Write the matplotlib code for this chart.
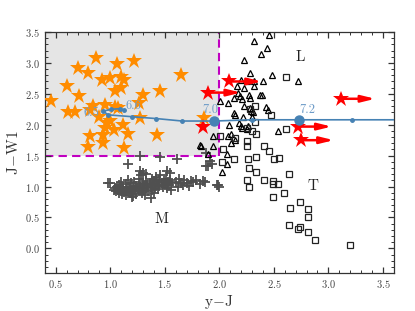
import matplotlib
matplotlib.use("Agg")
import matplotlib.pyplot as plt
from matplotlib.ticker import MultipleLocator

plt.rcParams['font.family'] = 'serif'
plt.rcParams['font.serif'] = ['cmr10', 'DejaVu Serif']
plt.rcParams['mathtext.fontset'] = 'cm'
plt.rcParams['axes.formatter.use_mathtext'] = True

# ---- data ----
# young objects (orange stars)
young_x = [0.46, 0.60, 0.70, 0.80, 0.865, 0.71, 0.61, 0.675, 0.92, 0.996, 1.06, 1.10, 1.13, 1.22,
           1.04, 1.10, 1.30, 1.46, 1.65, 1.26, 0.84, 0.95, 1.07, 0.81, 1.27, 0.97, 1.12, 0.95,
           1.03, 0.935, 0.81, 1.16, 1.43, 0.80, 0.935, 1.13, 1.86, 1.04, 0.90, 1.00]
young_y = [2.38, 2.63, 2.91, 2.83, 3.08, 2.47, 2.20, 2.20, 2.73, 2.75, 2.99, 2.78, 2.73, 3.03,
           2.55, 2.59, 2.48, 2.54, 2.81, 2.35, 2.31, 2.32, 2.27, 2.24, 2.11, 2.03, 2.00, 1.95,
           1.92, 1.84, 1.81, 1.85, 1.84, 1.64, 1.71, 1.62, 2.11, 2.28, 2.12, 2.06]

# M dwarfs (plus)
m_x = [1.00, 1.03, 1.04, 1.05, 1.06, 1.07, 1.08, 1.08, 1.09, 1.10, 1.10, 1.11, 1.12, 1.12, 1.13,
       1.14, 1.14, 1.15, 1.16, 1.16, 1.17, 1.18, 1.18, 1.19, 1.20, 1.21, 1.21, 1.22, 1.23, 1.24,
       1.24, 1.25, 1.26, 1.26, 1.27, 1.28, 1.29, 1.30, 1.30, 1.31, 1.32, 1.33, 1.33, 1.34, 1.35,
       1.36, 1.37, 1.38, 1.38, 1.39, 1.40, 1.41, 1.42, 1.42, 1.43, 1.44, 1.45, 1.45, 1.46, 1.47,
       1.48, 1.49, 1.50, 1.51, 1.52, 1.53, 1.54, 1.55, 1.56, 1.57,
       1.60, 1.62, 1.63, 1.65, 1.67, 1.68, 1.70, 1.72, 1.74, 1.76, 1.79, 1.82, 1.85, 1.87,
       1.16, 1.27, 1.46, 1.61, 1.27, 1.30, 1.52, 1.55, 1.37, 1.88, 1.91, 1.90, 1.93, 2.00, 1.98,
       0.98, 1.28, 1.33, 1.40, 1.20, 1.99, 1.88]
m_y = [1.05, 0.95, 0.98, 0.92, 1.00, 0.95, 0.90, 1.03, 0.97, 0.93, 1.08, 0.88, 1.00, 0.95, 0.91,
       1.04, 0.86, 0.97, 0.93, 1.10, 1.00, 0.89, 0.96, 1.05, 0.92, 0.99, 0.85, 1.07, 0.94, 1.01,
       0.88, 0.97, 1.12, 0.92, 1.04, 0.98, 0.90, 1.06, 0.95, 1.01, 0.87, 1.09, 0.97, 1.03, 0.93,
       1.06, 1.00, 1.12, 0.95, 1.04, 1.09, 0.98, 1.15, 1.03, 1.07, 0.96, 1.11, 1.01, 1.18, 1.05,
       0.99, 1.09, 1.03, 1.13, 0.97, 1.07, 1.02, 1.10, 0.95, 1.05,
       1.08, 1.00, 1.12, 1.05, 1.03, 1.10, 1.06, 1.01, 1.09, 1.07, 1.11, 1.04, 1.09, 1.08,
       1.37, 1.50, 1.48, 1.45, 1.25, 1.22, 1.25, 1.22, 0.81, 1.54, 1.41, 1.33, 1.37, 1.00, 1.03,
       1.06, 1.18, 1.20, 0.90, 0.83, 1.02, 1.33]

# L dwarfs (triangles)
l_x = [2.46, 2.32, 2.44, 2.38, 2.23, 2.28, 2.48, 2.72, 2.20, 2.25, 2.32, 2.40, 2.16, 2.23, 2.32,
       2.37, 2.39, 2.27, 2.28, 2.13, 2.19, 2.21, 2.17, 2.08, 2.23, 2.28, 2.29, 2.31, 2.43, 2.45,
       2.13, 2.14, 2.22, 2.09, 2.18, 2.20, 2.21, 2.25, 1.94, 2.08, 2.11, 2.14, 2.11, 2.54, 1.94,
       2.07, 1.90, 2.07, 2.02, 1.83, 2.01, 2.30, 2.26, 1.82]
l_y = [3.46, 3.36, 3.24, 3.14, 3.05, 2.84, 2.81, 2.71, 2.73, 2.71, 2.70, 2.71, 2.62, 2.59, 2.63,
       2.48, 2.48, 2.48, 2.44, 2.43, 2.46, 2.42, 2.51, 2.35, 2.30, 2.27, 2.23, 2.21, 2.29, 2.24,
       2.19, 2.15, 2.13, 2.00, 2.03, 1.98, 1.95, 1.93, 1.81, 1.82, 1.85, 1.76, 1.70, 1.90, 1.65,
       1.52, 1.53, 1.37, 1.24, 1.65, 2.38, 2.12, 1.98, 1.67]

# T dwarfs (squares)
t_x = [2.61, 2.33, 2.28, 2.47, 2.33, 2.61, 2.25, 2.30, 2.34, 2.01, 2.14, 2.25, 2.25, 2.41, 2.46,
       2.26, 2.34, 2.55, 2.13, 2.50, 2.27, 2.34, 2.64, 2.25, 2.27, 2.41, 2.49, 2.54, 2.49, 2.59,
       2.49, 2.74, 2.65, 2.81, 2.81, 2.64, 2.72, 2.74, 2.81, 2.88, 3.20, 2.03, 2.02]
t_y = [2.77, 2.31, 2.25, 2.16, 2.04, 1.93, 1.95, 1.90, 1.85, 1.82, 1.79, 1.73, 1.65, 1.65, 1.57,
       1.45, 1.48, 1.46, 1.44, 1.44, 1.30, 1.23, 1.21, 1.10, 0.99, 1.10, 1.09, 1.04, 1.04, 0.90,
       0.83, 0.75, 0.66, 0.63, 0.50, 0.37, 0.32, 0.34, 0.27, 0.14, 0.05, 1.60, 1.39]

# lower limits (red stars + arrows)
lim_x = [2.09, 1.90, 3.12, 2.72, 2.75]
lim_y = [2.70, 2.52, 2.42, 1.97, 1.75]
lim_dx = [0.30, 0.30, 0.31, 0.31, 0.30]
star_red_x = [1.85]
star_red_y = [1.97]

# model track
trk_x = [1.13, 1.09, 1.01, 0.935, 0.98, 1.20, 1.42, 1.66, 1.95, 2.30, 2.73, 3.22, 3.70]
trk_y = [2.24, 2.26, 2.25, 2.22, 2.16, 2.13, 2.10, 2.06, 2.06, 2.08, 2.08, 2.08, 2.08]
big_x = [1.95, 2.73]
big_y = [2.06, 2.08]
trk_labels = ['6.5', '6.6', '7.0', '7.2']
trk_lab_x = [0.83, 1.21, 1.92, 2.81]
trk_lab_y = [2.19, 2.30, 2.24, 2.24]

region_labels = ['L', 'M', 'T']
region_x = [2.74, 1.47, 2.86]
region_y = [3.10, 0.48, 1.00]

# ---- plot ----
fig = plt.figure(figsize=(4.15, 3.11), dpi=100)
ax = fig.add_axes([0.108, 0.122, 0.841, 0.775])

ax.fill_between([0.4, 2.0], 1.5, 3.5, color='#e5e5e5', zorder=0, lw=0)
ax.plot([0.4, 2.0], [1.5, 1.5], ls='--', color='#c000c0', lw=1.5, zorder=1, dashes=(4, 2.5))
ax.plot([2.0, 2.0], [1.5, 3.5], ls='--', color='#c000c0', lw=1.5, zorder=1, dashes=(4, 2.5))

ax.plot(m_x, m_y, ls='none', marker='+', ms=6.5, mew=1.3, color='#505050', zorder=2)
ax.plot(l_x, l_y, ls='none', marker='^', ms=4.5, mew=0.9, mfc='none', mec='black', zorder=3)
ax.plot(t_x, t_y, ls='none', marker='s', ms=4.5, mew=0.9, mfc='none', mec='#222222', zorder=3)
ax.plot(young_x, young_y, ls='none', marker='*', ms=12, color='#ff8c00', mew=0, zorder=4)

for x, y, dx in zip(lim_x, lim_y, lim_dx):
    ax.annotate('', xy=(x + dx, y), xytext=(x, y),
                arrowprops=dict(arrowstyle='-|>,head_length=0.9,head_width=0.22',
                                mutation_scale=9, color='red', lw=1.8,
                                shrinkA=0, shrinkB=0), zorder=5)
ax.plot(lim_x, lim_y, ls='none', marker='*', ms=12, color='red', mew=0, zorder=6)
ax.plot(star_red_x, star_red_y, ls='none', marker='*', ms=12, color='red', mew=0, zorder=6)

ax.plot(trk_x, trk_y, color='#4682b4', lw=1.2, marker='o', ms=2.5, zorder=7)
ax.plot(big_x, big_y, ls='none', marker='o', ms=6.5, color='#4682b4', zorder=7)
for s, x, y in zip(trk_labels, trk_lab_x, trk_lab_y):
    ax.text(x, y, s, color='#6e9cc8', fontsize=9, ha='center', va='center', zorder=8)

for s, x, y in zip(region_labels, region_x, region_y):
    ax.text(x, y, s, fontsize=11, ha='center', va='center', color='#222222', zorder=8)

ax.set_xlim(0.4, 3.6)
ax.set_ylim(-0.4, 3.5)
ax.xaxis.set_major_locator(MultipleLocator(0.5))
ax.xaxis.set_minor_locator(MultipleLocator(0.1))
ax.yaxis.set_major_locator(MultipleLocator(0.5))
ax.yaxis.set_minor_locator(MultipleLocator(0.1))
ax.tick_params(which='both', direction='in', top=True, right=True, labelsize=7.5,
               colors='#333333', labelcolor='#444444')
ax.tick_params(which='major', length=4.5, width=0.9)
ax.tick_params(which='minor', length=2.3, width=0.7)
for sp in ax.spines.values():
    sp.set_color('#333333')
    sp.set_linewidth(0.9)

ax.set_xlabel(r'$\mathrm{y\!-\!J}$', fontsize=11, color='#333333', labelpad=2)
ax.set_ylabel(r'$\mathrm{J\!-\!W1}$', fontsize=11, color='#333333', labelpad=3)

fig.savefig('out.png', dpi=100)
